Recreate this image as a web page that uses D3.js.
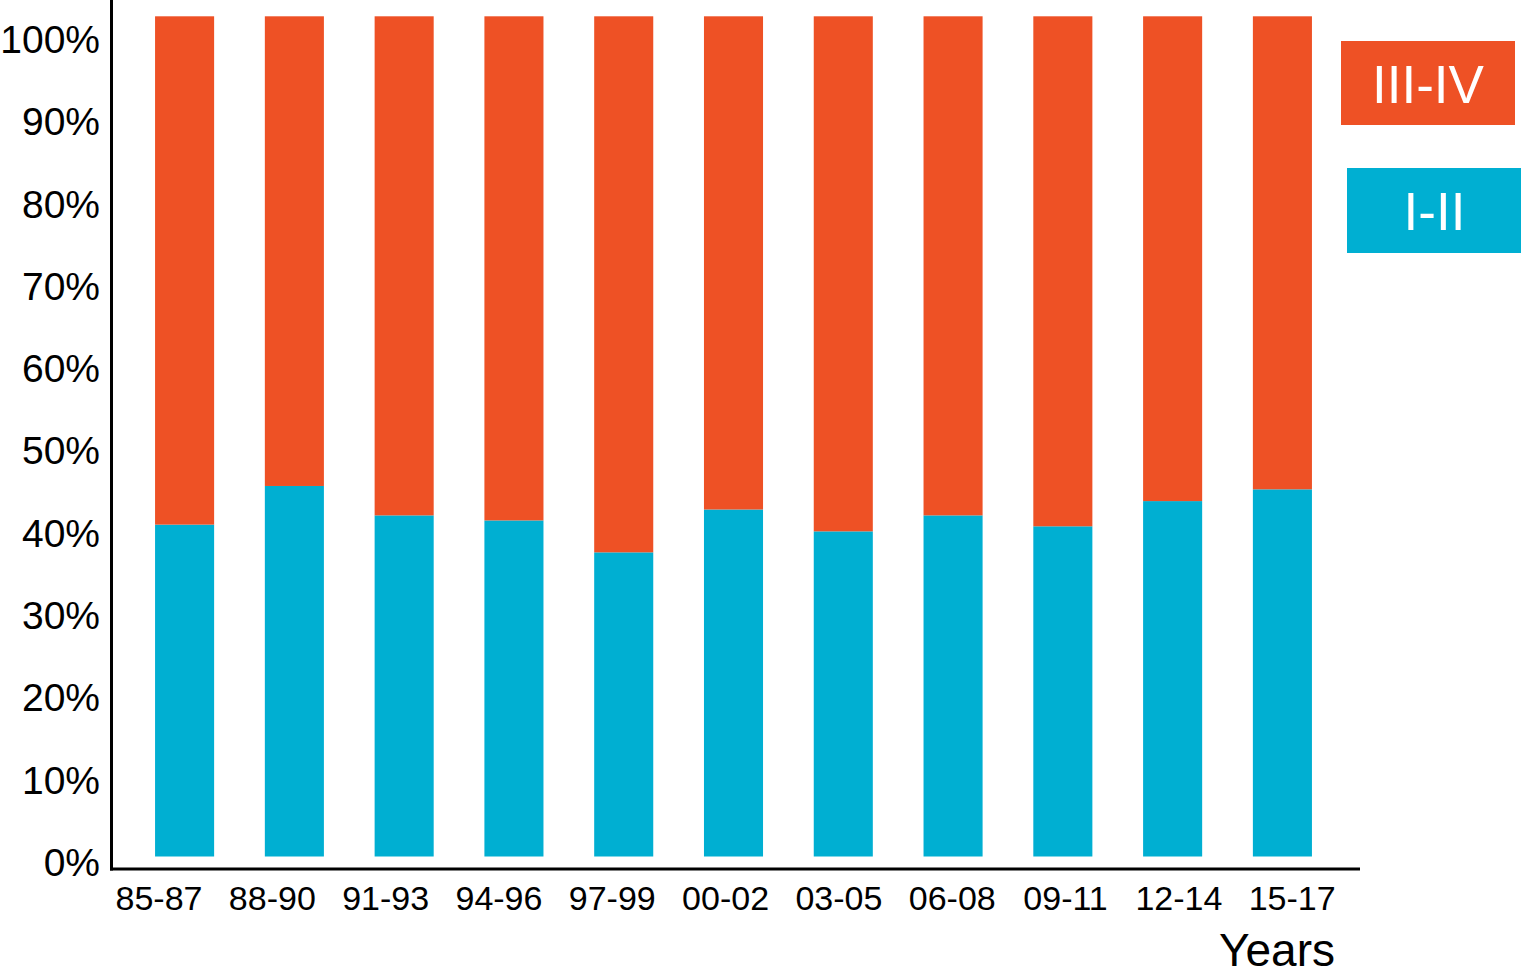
<!DOCTYPE html>
<html>
<head>
<meta charset="utf-8">
<script src="https://cdn.jsdelivr.net/npm/d3@7"></script>
<style>
  html, body { margin: 0; padding: 0; background: #fff; }
  svg { display: block; }
  text { font-family: "Liberation Sans", Arial, Helvetica, sans-serif; fill: #000; }
</style>
</head>
<body>
<svg id="chart" width="1521" height="978"></svg>
<script>
// ---- data ----
const categories = ["85-87","88-90","91-93","94-96","97-99","00-02","03-05","06-08","09-11","12-14","15-17"];
const lowStage  = [39.5, 44.1, 40.6, 40.0, 36.2, 41.3, 38.7, 40.6, 39.3, 42.3, 43.7]; // I-II (%)
const highStage = lowStage.map(v => 100 - v);                                          // III-IV (%)
const seriesNames = ["I-II", "III-IV"];
const seriesColors = ["#00AFD2", "#EE5125"];
const yTicks = [0,10,20,30,40,50,60,70,80,90,100];
const xTitle = "Years";

// ---- layout ----
const svg = d3.select("#chart");

const x = d3.scaleBand().domain(categories).range([129.7, 1337.3])
  .paddingInner(0.462).paddingOuter(0.231);
const xLabels = d3.scalePoint().domain(categories).range([158.5, 1291.7]);
const y = d3.scaleLinear().domain([0, 100]).range([856.5, 16.3]);
const yLabel = d3.scaleLinear().domain([0, 100]).range([863, 40]);

const rows = categories.map((c, i) => ({cat: c, "I-II": lowStage[i], "III-IV": highStage[i]}));
const stacked = d3.stack().keys(seriesNames)(rows);
const color = d3.scaleOrdinal().domain(seriesNames).range(seriesColors);

svg.append("g").selectAll("g").data(stacked).join("g")
  .attr("fill", d => color(d.key))
  .selectAll("rect").data(d => d).join("rect")
  .attr("x", d => x(d.data.cat))
  .attr("width", x.bandwidth())
  .attr("y", d => y(d[1]))
  .attr("height", d => y(d[0]) - y(d[1]));

// y axis labels
const yAxis = svg.append("g").attr("transform", "translate(100,0)")
  .call(d3.axisLeft(yLabel).tickValues(yTicks).tickFormat(d => d + "%").tickSize(0).tickPadding(0));
yAxis.select(".domain").remove();
yAxis.selectAll("text").style("font-size", "39px").attr("fill", "#000");

// x axis labels
const xAxis = svg.append("g").attr("transform", "translate(0,869)")
  .call(d3.axisBottom(xLabels).tickSize(0).tickPadding(0));
xAxis.select(".domain").remove();
xAxis.selectAll("text").attr("dy", null).attr("y", 41).style("font-size", "34px").attr("fill", "#000");

// axis lines
svg.append("line").attr("x1", 111.5).attr("x2", 111.5).attr("y1", 0).attr("y2", 870.5)
  .attr("stroke", "#000").attr("stroke-width", 3);
svg.append("line").attr("x1", 110).attr("x2", 1360).attr("y1", 869).attr("y2", 869)
  .attr("stroke", "#000").attr("stroke-width", 3);

// x title
svg.append("text").attr("x", 1335).attr("y", 966).attr("text-anchor", "end")
  .style("font-size", "46px").text(xTitle);

// legend
const legendItems = [
  {name: "III-IV", x: 1341, y: 41, w: 174, h: 84},
  {name: "I-II",   x: 1347, y: 168, w: 175, h: 85}
];
const lg = svg.append("g").selectAll("g").data(legendItems).join("g");
lg.append("rect").attr("x", d => d.x).attr("y", d => d.y).attr("width", d => d.w).attr("height", d => d.h)
  .attr("fill", d => color(d.name));
lg.append("text").attr("x", d => d.x + d.w / 2).attr("y", d => d.y + 61.5)
  .attr("text-anchor", "middle").style("font-size", "53px").style("fill", "#fff")
  .text(d => d.name);
</script>
</body>
</html>
